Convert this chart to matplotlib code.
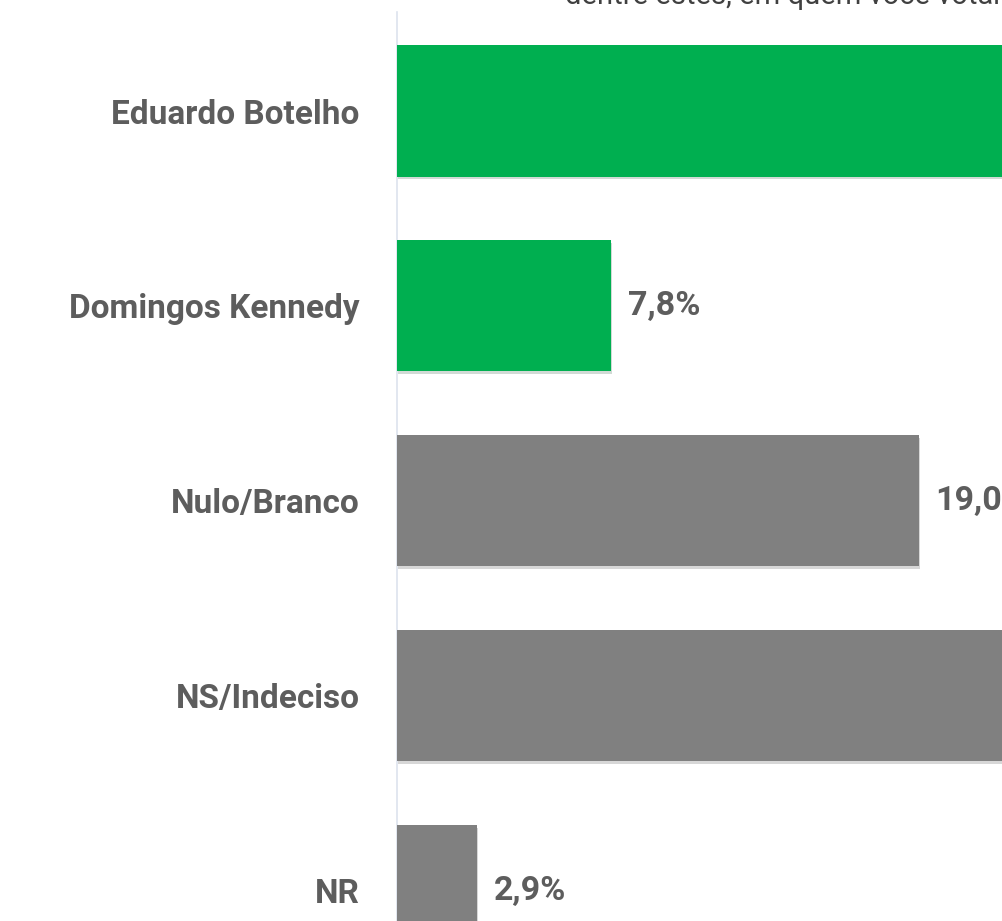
import matplotlib
matplotlib.use("Agg")
import matplotlib.pyplot as plt
import matplotlib.patheffects as pe

# data (top to bottom); first and fourth bars are cut off by the crop
candidates = ["Eduardo Botelho", "Domingos Kennedy", "Nulo/Branco", "NS/Indeciso", "NR"]
values = [42.2, 7.8, 19.0, 28.1, 2.9]
colors = ["#00AF50", "#00AF50", "#808080", "#808080", "#808080"]
value_labels = ["42,2%", "7,8%", "19,0%", "28,1%", "2,9%"]
subtitle = "dentre estes, em quem você votaria para prefeito?"

TEXT = "#5d5d5d"
plt.rcParams["font.family"] = ["Roboto", "DejaVu Sans"]

fig = plt.figure(figsize=(10.03, 9.21), dpi=100)
ax = fig.add_axes([397 / 1003, 0.0, 1 - 397 / 1003, 1 - 12 / 921])

y = list(range(len(candidates)))
bars = ax.barh(y, values, height=0.673, color=colors, zorder=3)
for b in bars:
    b.set_path_effects([pe.SimplePatchShadow(offset=(1, -2), alpha=0.18), pe.Normal()])

for yi, v, lab in zip(y, values, value_labels):
    ax.annotate(lab, (v, yi), xytext=(17, 0), textcoords="offset pixels",
                ha="left", va="center", fontsize=24.5, fontweight="bold", color=TEXT)

ax.set_xlim(0, (1003 - 397) / 27.45)
ax.set_ylim(4.156, -0.508)
ax.set_yticks(y)
ax.set_yticklabels(candidates, fontsize=24, fontweight="bold", color=TEXT)
ax.tick_params(axis="y", length=0, pad=27)
ax.set_xticks([])
for s in ["top", "right", "bottom"]:
    ax.spines[s].set_visible(False)
ax.spines["left"].set_color("#dde3ee")
ax.spines["left"].set_linewidth(1.2)

# title line above, mostly cropped out of view
fig.text(565 / 1003, 1 - 4 / 921, subtitle, ha="left", va="baseline",
         fontsize=21, color="#404040")

fig.savefig("out.png", dpi=100)
